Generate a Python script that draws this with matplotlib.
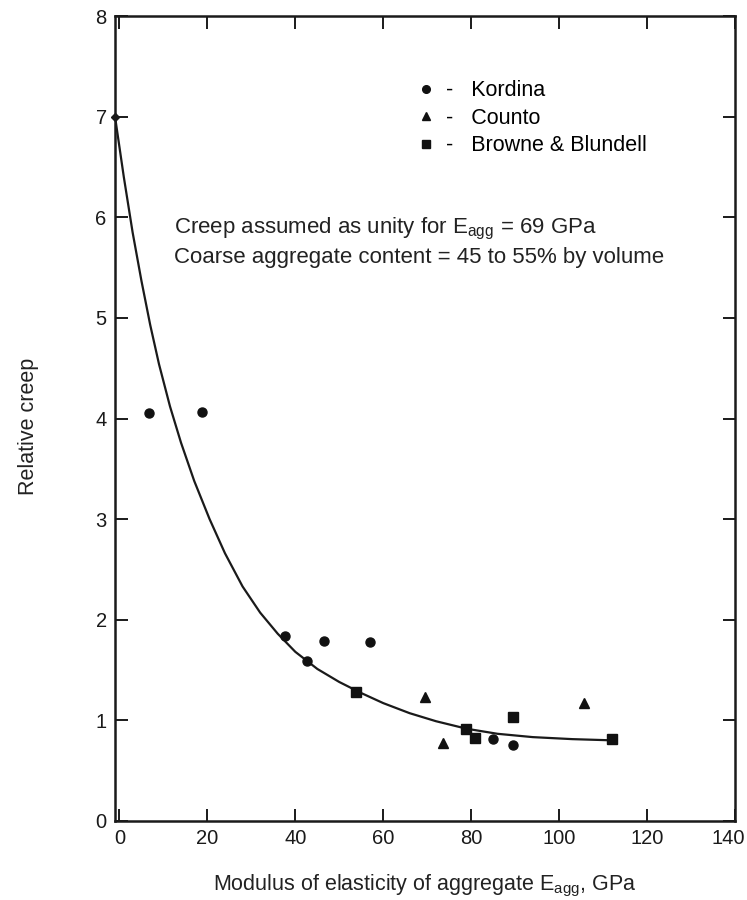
import numpy as np
import matplotlib.pyplot as plt
import matplotlib.transforms as mtransforms
from matplotlib.lines import Line2D

plt.rcParams['font.family'] = ['Liberation Sans', 'DejaVu Sans']
plt.rcParams['mathtext.fontset'] = 'custom'
plt.rcParams['mathtext.rm'] = 'Liberation Sans'
plt.rcParams['mathtext.it'] = 'Liberation Sans:italic'

# measured points, E_agg (GPa) vs relative creep
kordina_x = [6.7, 18.8, 37.7, 42.7, 46.5, 57.0, 85.0, 89.5]
kordina_y = [4.05, 4.06, 1.84, 1.59, 1.79, 1.78, 0.81, 0.75]
counto_x = [69.5, 73.6, 105.7]
counto_y = [1.23, 0.77, 1.17]
browne_x = [53.8, 78.8, 80.9, 89.5, 112.0]
browne_y = [1.28, 0.91, 0.82, 1.03, 0.81]

# fitted trend line read along its length
fit_x = [-1.0, 1.0, 3.0, 5.0, 7.0, 9.0, 11.5, 14.0, 17.0, 20.5, 24.0, 28.0,
         32.0, 36.0, 40.0, 45.0, 50.0, 55.0, 60.0, 66.0, 72.0, 79.0, 86.0,
         94.0, 103.0, 112.0]
fit_y = [7.0, 6.40, 5.85, 5.37, 4.93, 4.54, 4.12, 3.76, 3.38, 3.0, 2.66, 2.33,
         2.07, 1.86, 1.68, 1.51, 1.38, 1.27, 1.17, 1.07, 0.99, 0.915, 0.865,
         0.832, 0.812, 0.80]

x_ticks = [0, 20, 40, 60, 80, 100, 120, 140]
y_ticks = [0, 1, 2, 3, 4, 5, 6, 7, 8]

fig = plt.figure(figsize=(7.47, 9.0), dpi=100)
ax = fig.add_axes([0.154, 0.088, 0.83, 0.894])

ax.plot(fit_x, fit_y, color='#1a1a1a', lw=1.6, zorder=2, solid_joinstyle='round')
ax.plot([fit_x[0]], [fit_y[0]], marker='D', ms=4, color='#1a1a1a', clip_on=False, zorder=3)

ax.plot(kordina_x, kordina_y, 'o', ms=6.5, color='#111111', ls='none', zorder=3)
ax.plot(counto_x, counto_y, '^', ms=6.5, color='#111111', ls='none', zorder=3)
ax.plot(browne_x, browne_y, 's', ms=6.5, color='#111111', ls='none', zorder=3)

handles = [Line2D([], [], marker='o', ms=5.5, color='#111111', ls='none'),
           Line2D([], [], marker='^', ms=5.5, color='#111111', ls='none'),
           Line2D([], [], marker='s', ms=5.5, color='#111111', ls='none')]
labels = ['-   Kordina', '-   Counto', '-   Browne & Blundell']
ax.legend(handles, labels, loc='upper left', bbox_to_anchor=(0.47, 0.931),
          frameon=False, fontsize=15.5, handlelength=1.0, handletextpad=0.45,
          labelspacing=0.3, borderaxespad=0)

ax.text(0.095, 0.735, r'Creep assumed as unity for E$_{\mathrm{agg}}$ = 69 GPa',
        transform=ax.transAxes, fontsize=16, va='center', ha='left', color='#222222')
ax.text(0.095, 0.700, 'Coarse aggregate content = 45 to 55% by volume',
        transform=ax.transAxes, fontsize=16, va='center', ha='left', color='#222222')

ax.set_xlim(-1, 140)
ax.set_ylim(0, 8)
ax.set_xticks(x_ticks)
ax.set_yticks(y_ticks)
ax.tick_params(direction='in', length=9, width=1.4, top=True, right=True,
               labelsize=14.5, pad=6, colors='#1a1a1a')
for side in ax.spines.values():
    side.set_linewidth(1.8)
    side.set_color('#1a1a1a')

# keep the last x label inside the figure edge
last = ax.get_xticklabels()[-1]
last.set_transform(last.get_transform() +
                   mtransforms.ScaledTranslation(-7 / 100, 0, fig.dpi_scale_trans))

ax.set_xlabel(r'Modulus of elasticity of aggregate E$_{\mathrm{agg}}$, GPa',
              fontsize=15.5, color='#222222', labelpad=18)
ax.set_ylabel('Relative creep', fontsize=15.5, color='#222222')
ax.yaxis.set_label_coords(-0.123, 0.49)

fig.savefig('out.png', dpi=100)
